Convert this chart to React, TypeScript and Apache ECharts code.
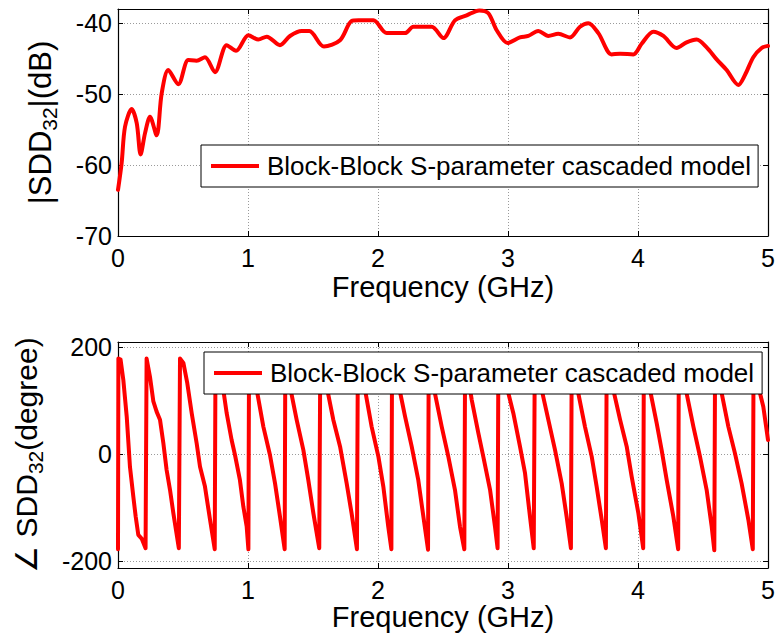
import React, { useEffect, useRef } from "react";
import * as echarts from "echarts";

const seriesName = "Block-Block S-parameter cascaded model";
const xTitle = "Frequency (GHz)";

const magFreq = [
  0, 0.028, 0.054, 0.105, 0.144, 0.174, 0.208, 0.246, 0.297, 0.336,
  0.387, 0.464, 0.541, 0.605, 0.669, 0.746, 0.836, 0.908, 1.003, 1.079,
  1.144, 1.246, 1.323, 1.413, 1.472, 1.584, 1.708, 1.797, 1.85, 1.964,
  2.067, 2.208, 2.272, 2.413, 2.503, 2.592, 2.682, 2.779, 2.849, 2.913,
  2.997, 3.092, 3.156, 3.233, 3.31, 3.387, 3.477, 3.554, 3.618, 3.695,
  3.797, 3.862, 3.964, 4.028, 4.118, 4.195, 4.297, 4.374, 4.451, 4.528,
  4.605, 4.682, 4.772, 4.823, 4.887, 4.951, 5.0,
];
const magDb = [
  -63.5, -59.7, -54.6, -52.1, -54.1, -58.5, -55.5, -53.2, -55.8, -49.9,
  -46.6, -48.6, -45.2, -45.3, -44.8, -46.9, -43.1, -43.9, -41.7, -42.3,
  -41.9, -43.1, -41.8, -41.1, -41.1, -43.3, -42.4, -39.7, -39.6, -39.6,
  -41.4, -41.4, -40.5, -40.5, -42.1, -39.6, -38.9, -38.2, -38.6, -41,
  -42.8, -42, -41.8, -41.1, -41.8, -41.5, -42, -40.5, -40, -41.4,
  -44.4, -44.3, -44.4, -42.9, -41.2, -41.8, -43.5, -42.7, -42.3, -43.4,
  -45.1, -46.6, -48.7, -47.3, -44.8, -43.5, -43.2,
];

const phaseFreq = [
  0.0, 0.003, 0.02, 0.041, 0.067, 0.092, 0.118, 0.136, 0.156, 0.182,
  0.212, 0.22, 0.246, 0.272, 0.297, 0.323, 0.349, 0.374, 0.4, 0.426,
  0.468, 0.477, 0.503, 0.533, 0.567, 0.605, 0.631, 0.669, 0.708, 0.744,
  0.75, 0.81, 0.836, 0.874, 0.9, 0.938, 0.964, 0.99, 1.003, 1.008,
  1.067, 1.118, 1.169, 1.208, 1.246, 1.282, 1.287, 1.323, 1.374, 1.426,
  1.464, 1.503, 1.548, 1.556, 1.605, 1.656, 1.708, 1.759, 1.797, 1.838,
  1.845, 1.9, 1.951, 2.003, 2.041, 2.079, 2.103, 2.108, 2.156, 2.208,
  2.259, 2.31, 2.349, 2.385, 2.39, 2.438, 2.49, 2.541, 2.592, 2.631,
  2.664, 2.67, 2.721, 2.772, 2.81, 2.862, 2.9, 2.92, 2.926, 2.99,
  3.041, 3.092, 3.131, 3.169, 3.198, 3.206, 3.259, 3.31, 3.362, 3.413,
  3.451, 3.484, 3.49, 3.541, 3.592, 3.644, 3.682, 3.721, 3.753, 3.759,
  3.81, 3.862, 3.913, 3.951, 4.003, 4.04, 4.045, 4.092, 4.144, 4.182,
  4.221, 4.272, 4.309, 4.314, 4.374, 4.426, 4.477, 4.528, 4.567, 4.587,
  4.593, 4.644, 4.695, 4.746, 4.797, 4.849, 4.883, 4.889, 4.926, 4.964,
  5.0,
];
const phaseDeg = [
  -178, 178, 176, 138, 70, -24, -80, -117, -151, -158,
  -176, 178, 144, 98, 79, 64, 20, -30, -67, -111,
  -176, 178, 170, 132, 76, 20, -24, -61, -123, -178,
  178, 120, 76, 26, -2, -49, -98, -136, -178, 178,
  120, 51, -2, -55, -117, -178, 178, 126, 64, 7,
  -49, -111, -176, 178, 126, 64, 14, -55, -111, -178,
  178, 120, 51, -5, -61, -136, -178, 178, 132, 70,
  14, -49, -117, -179, 178, 113, 51, -5, -67, -136,
  -178, 178, 101, 39, -5, -67, -136, -176, 178, 126,
  76, 14, -36, -117, -176, 178, 120, 64, 7, -55,
  -117, -176, 178, 113, 51, -5, -61, -123, -176, 178,
  120, 64, 14, -42, -111, -176, 178, 120, 57, 7,
  -49, -117, -178, 178, 113, 51, -5, -67, -136, -180,
  178, 113, 51, 1, -55, -123, -178, 178, 126, 88,
  26,
];

const magTicks = [-70, -60, -50, -40];
const phaseTicks = [-200, 0, 200];

const FONT = "'Liberation Sans', Arial, 'DejaVu Sans', sans-serif";

export default function App() {
  const ref = useRef<HTMLDivElement>(null);
  useEffect(() => {
    const chart = echarts.init(ref.current!, null, { renderer: "svg" });
    const gridLine = { show: true, lineStyle: { color: "#9a9a9a", width: 1, type: [1, 2] as any } };
    const axisLine = { show: true, onZero: false, lineStyle: { color: "#000", width: 1.2 } };
    const tick = { show: true, inside: true, length: 5, lineStyle: { color: "#000", width: 1 } };
    const lbl = { color: "#000", fontSize: 25, fontFamily: FONT };
    const nameStyle = (size: number) => ({
      color: "#000",
      fontFamily: FONT,
      fontSize: size,
      rich: {
        m: { fontSize: size, fontFamily: FONT, color: "#000", lineHeight: 40 },
        s: { fontSize: 21, fontFamily: FONT, color: "#000", lineHeight: 20, verticalAlign: "bottom" },
      },
    });
    const xBase = (gridIndex: number) => ({
      type: "value", gridIndex, min: 0, max: 5, interval: 1,
    });
    const legendBase = {
      data: [seriesName],
      orient: "horizontal",
      icon: "rect",
      itemWidth: 48,
      itemHeight: 4,
      itemGap: 0,
      selectedMode: false,
      backgroundColor: "#fff",
      borderColor: "#000",
      borderWidth: 1,
      borderRadius: 0,
      textStyle: { color: "#000", fontSize: 26, fontFamily: FONT, padding: [0, 0, 0, 3] },
    };
    chart.setOption({
      animation: false,
      backgroundColor: "#fff",
      grid: [
        { left: 118, top: 9, width: 650, height: 227, show: false },
        { left: 118, top: 342, width: 650, height: 226, show: false },
      ],
      legend: [
        { ...legendBase, left: 201, top: 145, padding: [8, 7, 8, 10] },
        { ...legendBase, left: 204, top: 352, padding: [8, 8, 8, 10] },
      ],
      xAxis: [
        {
          ...xBase(0), position: "bottom", axisLine, axisTick: tick, splitLine: gridLine,
          axisLabel: { ...lbl, margin: 9 },
          name: xTitle, nameLocation: "middle", nameGap: 36,
          nameTextStyle: { color: "#000", fontFamily: FONT, fontSize: 29 },
        },
        { ...xBase(0), position: "top", axisLine, axisTick: tick, splitLine: { show: false }, axisLabel: { show: false } },
        {
          ...xBase(1), position: "bottom", axisLine, axisTick: tick, splitLine: gridLine,
          axisLabel: { ...lbl, margin: 9 },
          name: xTitle, nameLocation: "middle", nameGap: 32,
          nameTextStyle: { color: "#000", fontFamily: FONT, fontSize: 29 },
        },
        { ...xBase(1), position: "top", axisLine, axisTick: tick, splitLine: { show: false }, axisLabel: { show: false } },
      ],
      yAxis: [
        {
          type: "value", gridIndex: 0, position: "left", min: -70, max: -38, interval: 10,
          axisLine, axisTick: tick, splitLine: gridLine,
          axisLabel: {
            ...lbl, margin: 6, showMaxLabel: false,
            formatter: (v: number) => (magTicks.indexOf(v) >= 0 ? String(v) : ""),
          },
          name: "{m||SDD}{s|32}{m||(dB)}", nameLocation: "middle", nameGap: 58, nameRotate: 90,
          nameTextStyle: nameStyle(31),
        },
        {
          type: "value", gridIndex: 0, position: "right", min: -70, max: -38, interval: 10,
          axisLine, axisTick: tick, splitLine: { show: false }, axisLabel: { show: false },
        },
        {
          type: "value", gridIndex: 1, position: "left", min: -213, max: 209,
          axisLine, axisTick: { ...tick, customValues: phaseTicks }, splitLine: gridLine,
          axisLabel: { ...lbl, margin: 6, customValues: phaseTicks },
          name: "{m|∠ SDD}{s|32}{m|(degree)}", nameLocation: "middle", nameGap: 72, nameRotate: 90,
          nameTextStyle: nameStyle(30),
        },
        {
          type: "value", gridIndex: 1, position: "right", min: -213, max: 209,
          axisLine, axisTick: { ...tick, customValues: phaseTicks }, splitLine: { show: false }, axisLabel: { show: false },
        },
      ],
      series: [
        {
          name: seriesName, type: "line", xAxisIndex: 0, yAxisIndex: 0,
          data: magFreq.map((f, i) => [f, magDb[i]]),
          showSymbol: false, smooth: 0.3, clip: true,
          lineStyle: { color: "#ff0000", width: 4, join: "round", cap: "round" },
          itemStyle: { color: "#ff0000" },
          z: 2,
        },
        {
          name: seriesName, type: "line", xAxisIndex: 2, yAxisIndex: 2,
          data: phaseFreq.map((f, i) => [f, phaseDeg[i]]),
          showSymbol: false, smooth: false, clip: true,
          lineStyle: { color: "#ff0000", width: 4, join: "round", cap: "round" },
          itemStyle: { color: "#ff0000" },
          z: 2,
        },
      ],
    });
    return () => chart.dispose();
  }, []);
  return (
    <div
      ref={ref}
      style={{ position: "fixed", left: 0, top: 0, width: 778, height: 640, background: "#fff" }}
    />
  );
}
